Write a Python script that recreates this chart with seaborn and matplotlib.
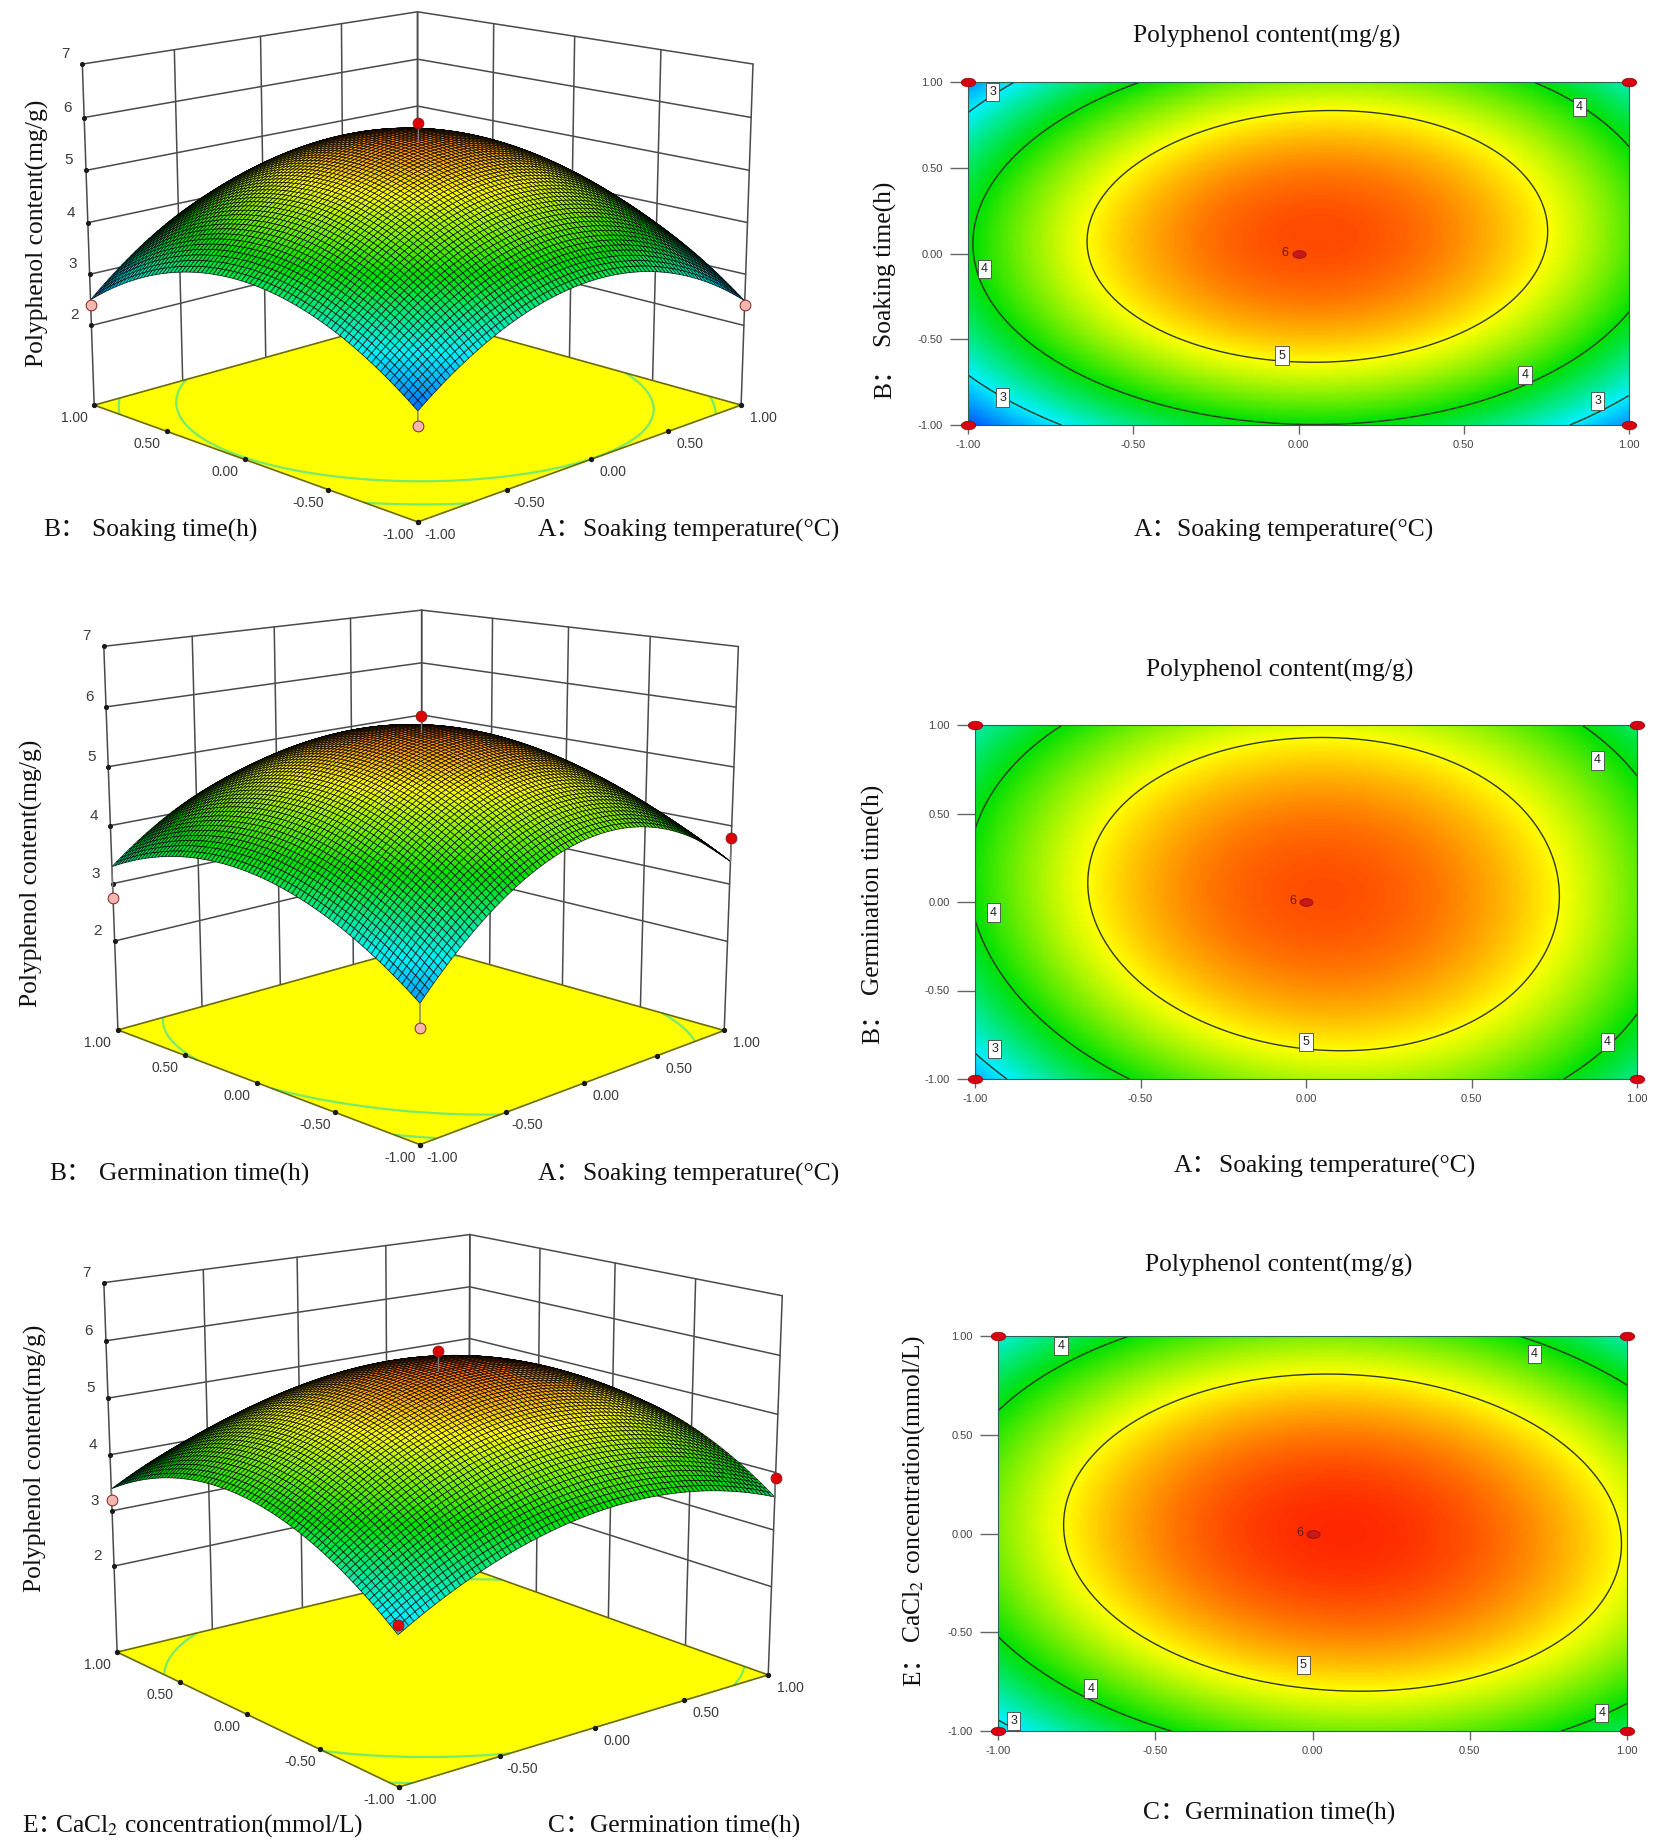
import numpy as np
import pandas as pd
import matplotlib
matplotlib.use("Agg")
import matplotlib.pyplot as plt
from matplotlib.colors import LinearSegmentedColormap, Normalize
from matplotlib.path import Path
from matplotlib.transforms import Affine2D
import seaborn as sns

sns.set_theme(style="white")
SERIF = ["Liberation Serif", "Noto Sans CJK SC", "DejaVu Sans"]
plt.rcParams["mathtext.fontset"] = "stix"

W, H = 1654, 1843

# Response grids: rows are the second factor, columns the first
LEVELS = [-1.0, -0.5, 0.0, 0.5, 1.0]
RESPONSE_1 = [[2.10, 3.55, 4.05, 3.60, 2.50],
              [3.55, 4.55, 5.25, 4.90, 3.75],
              [3.95, 5.15, 6.05, 5.45, 4.30],
              [3.70, 4.90, 5.65, 5.25, 4.10],
              [2.50, 3.95, 4.55, 4.35, 3.30]]
RESPONSE_2 = [[2.65, 4.15, 4.60, 4.55, 3.45],
              [3.70, 4.80, 5.40, 5.30, 4.00],
              [4.05, 5.10, 6.00, 5.40, 4.55],
              [4.05, 5.05, 5.70, 5.35, 4.05],
              [3.25, 4.50, 4.90, 4.40, 3.70]]
RESPONSE_3 = [[2.85, 3.90, 4.45, 4.35, 3.65],
              [4.00, 5.10, 5.50, 5.40, 4.65],
              [4.50, 5.55, 6.00, 5.75, 4.90],
              [4.20, 5.20, 5.55, 5.40, 4.60],
              [3.10, 4.15, 4.50, 4.15, 3.30]]
# The same responses as read against the walls of the 3D views
SURFACE_1 = [[2.35, 3.40, 3.85, 3.40, 2.50],
             [3.40, 4.35, 4.95, 4.60, 3.60],
             [3.75, 4.95, 5.85, 5.25, 4.05],
             [3.50, 4.70, 5.35, 5.05, 3.90],
             [2.50, 3.75, 4.30, 4.10, 3.10]]
SURFACE_2 = [[2.55, 3.90, 4.35, 4.30, 3.40],
             [3.50, 4.60, 5.20, 5.10, 3.80],
             [3.85, 4.95, 5.72, 5.25, 4.30],
             [3.85, 4.85, 5.45, 5.15, 3.85],
             [3.25, 4.30, 4.65, 4.20, 3.60]]
SURFACE_3 = [[2.85, 3.60, 4.10, 4.00, 3.60],
             [3.75, 4.70, 5.15, 5.10, 4.35],
             [4.15, 5.15, 5.55, 5.55, 4.65],
             [4.00, 4.95, 5.35, 5.30, 4.40],
             [3.40, 4.10, 4.45, 4.10, 3.55]]
# Design points: (first factor, second factor, response, colour)
POINTS_1 = [(0, 0, 5.9, "#e00000"), (-1, 1, 2.4, "#f2b8b0"), (1, -1, 2.4, "#f2b8b0"), (-1, -1, 2.1, "#f2b8b0")]
POINTS_2 = [(0, 0, 5.85, "#e00000"), (-1, 1, 2.75, "#f2b8b0"), (1, -1, 3.8, "#e00000"), (-1, -1, 2.2, "#f2b8b0")]
POINTS_3 = [(0, 0, 5.95, "#e00000"), (-1, 1, 3.2, "#f2b8b0"), (1, -1, 3.9, "#e00000"), (-1, -1, 3.0, "#e00000")]
Z_TICKS = [2, 3, 4, 5, 6, 7]
Z_LABELS = ["2", "3", "4", "5", "6", "7"]
XY_TICKS = [-1.0, -0.5, 0.0, 0.5, 1.0]
XY_LABELS = ["-1.00", "-0.50", "0.00", "0.50", "1.00"]
CONTOUR_LEVELS = [3, 4, 5]
FLOOR_LEVELS = [3, 4]
LABELS_1 = [(-.925, .94, "3"), (.85, .855, "4"), (-.95, -.09, "4"), (-.05, -.595, "5"),
            (.685, -.71, "4"), (-.895, -.84, "3"), (.905, -.86, "3")]
LABELS_2 = [(.88, .80, "4"), (-.945, -.06, "4"), (-.94, -.83, "3"), (0, -.79, "5"), (.91, -.79, "4")]
LABELS_3 = [(-.80, .95, "4"), (.705, .91, "4"), (-.03, -.665, "5"), (-.705, -.785, "4"),
            (-.95, -.95, "3"), (.92, -.91, "4")]
TITLE = "Polyphenol content(mg/g)"
Z_FLOOR = 0.42

cmap = LinearSegmentedColormap.from_list(
    "rsm", ["#0038ff", "#00f0ff", "#00e000", "#ffff00", "#ff2000"])
norm = Normalize(vmin=2, vmax=6)
FLAT = Path.unit_circle().transformed(Affine2D().scale(1.7, 1))

fig = plt.figure(figsize=(W / 100, H / 100), dpi=100, facecolor="white")


def fine_surface(rows, n):
    gx, gy = np.meshgrid(LEVELS, LEVELS)
    basis = np.polynomial.polynomial.polyvander2d(gx.ravel(), gy.ravel(), [2, 2])
    coef = np.linalg.lstsq(basis, np.asarray(rows, float).ravel(), rcond=None)[0]
    axis = np.linspace(-1, 1, n)
    X, Y = np.meshgrid(axis, axis)
    Z = np.polynomial.polynomial.polyval2d(X, Y, coef.reshape(3, 3))
    return X, Y, Z


def px_text(x, y, s, **kw):
    kw.setdefault("family", SERIF)
    kw.setdefault("fontsize", 18.4)
    kw.setdefault("color", "#111111")
    kw.setdefault("va", "center")
    return fig.text(x / W, 1 - y / H, s, **kw)


def fit_camera(ax, targets):
    pts = np.array([[-1, 1, Z_FLOOR, 1], [1, -1, Z_FLOOR, 1], [-1, -1, Z_FLOOR, 1],
                    [-1, 1, 7, 1], [1, -1, 7, 1], [1, 1, 7, 1]], float)
    tgt = np.array(targets, float)
    tgt[:, 1] = H - tgt[:, 1]

    def solve(p):
        ax.view_init(elev=p[0], azim=p[1])
        ax.set_proj_type("persp", focal_length=p[2])
        ax.set_box_aspect((1, 1, p[3]))
        q = (ax.get_proj() @ pts.T).T
        uv = q[:, :2] / q[:, [3]]
        fr = ax.transLimits.transform(uv)
        d = fr - fr.mean(axis=0)
        t = tgt - tgt.mean(axis=0)
        s = (d * t).sum() / (d * d).sum()
        off = tgt.mean(axis=0) - s * fr.mean(axis=0)
        return ((s * fr + off - tgt) ** 2).sum(), s, off

    p = np.array([20.0, -135.0, 3.0, 1.6])
    steps = np.array([4.0, 4.0, 1.0, 0.2])
    best = solve(p)[0]
    for _ in range(40):
        improved = False
        for i in range(4):
            for sign in (1, -1):
                c = p.copy()
                c[i] += sign * steps[i]
                if c[2] < 0.3 or c[3] < 0.4:
                    continue
                e = solve(c)[0]
                if e < best:
                    best, p, improved = e, c, True
        if not improved:
            steps = steps / 2
    _, s, off = solve(p)
    ax.set_position([off[0] / W, off[1] / H, s / W, s / H])


def panel_3d(rows, floor_rows, points, targets):
    ax = fig.add_axes([0, 0, 0.5, 0.5], projection="3d", computed_zorder=False)
    ax.set_axis_off()
    ax.patch.set_visible(False)
    ax.set_xlim(-1, 1)
    ax.set_ylim(-1, 1)
    ax.set_zlim(Z_FLOOR, 7)
    fit_camera(ax, targets)
    # walls
    wall = dict(color="#4a4a4a", lw=1.1, zorder=0)
    for z in Z_TICKS:
        ax.plot([-1, 1, 1], [1, 1, -1], [z, z, z], **wall)
    for t in XY_TICKS:
        ax.plot([t, t], [1, 1], [Z_FLOOR, 7], **wall)
        ax.plot([1, 1], [t, t], [Z_FLOOR, 7], **wall)
    # floor
    X, Y, Z = fine_surface(rows, 81)
    Xf, Yf, Zf = fine_surface(floor_rows, 81)
    fx = np.array([[-1, 1], [-1, 1]], float)
    fy = np.array([[-1, -1], [1, 1]], float)
    ax.plot_surface(fx, fy, np.full_like(fx, Z_FLOOR), color="#ffff00", shade=False,
                    linewidth=0, zorder=1)
    ax.contour(Xf, Yf, Zf, levels=FLOOR_LEVELS, zdir="z", offset=Z_FLOOR,
               colors="#78ea6a", linewidths=1.6, zorder=2)
    edge = dict(color="#6b6b00", lw=1.2, zorder=2)
    ax.plot([-1, 1, 1, -1, -1], [-1, -1, 1, 1, -1], [Z_FLOOR] * 5, **edge)
    for t in XY_TICKS:
        ax.scatter([t], [-1], [Z_FLOOR], c="k", s=8, depthshade=False, zorder=2.5)
        ax.scatter([-1], [t], [Z_FLOOR], c="k", s=8, depthshade=False, zorder=2.5)
    for z in Z_TICKS:
        ax.scatter([-1], [1], [z], c="k", s=7, depthshade=False, zorder=2.5)
    fc = cmap(norm(Z))
    ax.plot_surface(X, Y, Z, facecolors=fc, rstride=1, cstride=1, shade=False,
                    edgecolor=(0, 0, 0, 0.9), linewidth=0.5, zorder=3)
    # stems join a design point to the surface
    for a, b, z, col in points:
        i, j = int(round((b + 1) * 40)), int(round((a + 1) * 40))
        ax.plot([a, a], [b, b], [z, Z[i, j]], color="#7a7a7a", lw=1.0, zorder=4)
    for a, b, z, col in points:
        ax.scatter([a], [b], [z], c=col, s=60, edgecolors="#8a2020", linewidths=0.7,
                   depthshade=False, zorder=5)
    M = ax.get_proj()

    def proj(x, y, z):
        q = M @ np.array([x, y, z, 1.0])
        return q[0] / q[3], q[1] / q[3]

    def lab(x, y, z, s, dx, dy, **kw):
        ax.annotate(s, proj(x, y, z), xytext=(dx, dy), textcoords="offset pixels",
                    family="Liberation Sans", color="#3a3a3a", ha="center", va="center",
                    annotation_clip=False, **kw)

    for t, s in zip(XY_TICKS, XY_LABELS):
        lab(t, -1, Z_FLOOR, s, 22, -13, fontsize=10)
        lab(-1, t, Z_FLOOR, s, -20, -13, fontsize=10)
    for z, s in zip(Z_TICKS, Z_LABELS):
        lab(-1, 1, z, s, -17, 10, fontsize=11)
    return ax


def panel_contour(rows, box, labels):
    l, t, r, b = box
    n = 300
    X, Y, Z = fine_surface(rows, n)
    ax = fig.add_axes([l / W, 1 - b / H, (r - l) / W, (b - t) / H])
    df = pd.DataFrame(Z)
    sns.heatmap(df, ax=ax, cmap=cmap, norm=norm, cbar=False, xticklabels=False, yticklabels=False)
    ax.invert_yaxis()
    to_i = lambda v: (np.asarray(v) + 1) / 2 * n
    ax.contour(to_i(X), to_i(Y), Z, levels=CONTOUR_LEVELS, colors="#2a3a20", linewidths=1.0)
    ax.set_xticks(to_i(XY_TICKS))
    ax.set_xticklabels(XY_LABELS, family="Liberation Sans", fontsize=8, color="#444444")
    ax.set_yticks(to_i(XY_TICKS))
    ax.set_yticklabels(XY_LABELS, family="Liberation Sans", fontsize=8, color="#444444", rotation=0)
    ax.tick_params(axis="x", length=6.5, width=1, color="#666666", pad=4, bottom=True)
    ax.tick_params(axis="y", length=13, width=1, color="#666666", pad=5, left=True)
    for sp in ax.spines.values():
        sp.set_visible(True)
        sp.set_color("#2f5f50")
        sp.set_linewidth(0.8)
    ax.scatter(to_i([-1, 1, -1, 1]), to_i([-1, -1, 1, 1]), s=110, marker=FLAT, c="#d80010",
               edgecolors="#900000", linewidths=0.5, clip_on=False, zorder=6)
    ax.scatter(to_i([0]), to_i([0]), s=90, marker=FLAT, c="#c81818", edgecolors="#801010",
               linewidths=0.5, zorder=6)
    ax.text(to_i(-0.04), to_i(0.005), "6", fontsize=9, family="Liberation Sans", color="#602010",
            ha="center", va="center")
    for a, bb, s in labels:
        ax.text(to_i(a), to_i(bb), s, fontsize=9, family="Liberation Sans", color="#222222",
                ha="center", va="center",
                bbox=dict(boxstyle="square,pad=0.25", fc="white", ec="#444444", lw=0.6))
    return ax


def prefixed(x, y, prefix, body, gap=45, rotate=False):
    if rotate:
        px_text(x, y, prefix, rotation=90, ha="center", va="bottom")
        px_text(x, y - gap, body, rotation=90, ha="center", va="bottom")
    else:
        px_text(x, y, prefix, ha="left")
        px_text(x + gap, y, body, ha="left")


# Row 1
panel_3d(SURFACE_1, RESPONSE_1, POINTS_1, [(98, 406), (737, 406), (418, 520), (78, 65), (757, 64), (418, 11)])
panel_contour(RESPONSE_1, (968, 82, 1629, 425), LABELS_1)
px_text(37, 233, TITLE, rotation=90, ha="center")
prefixed(43, 530, "B：", "Soaking time(h)", gap=49)
prefixed(538, 530, "A：", "Soaking temperature(°C)", gap=45)
px_text(1267, 36, TITLE, ha="center")
prefixed(1134, 530, "A：", "Soaking temperature(°C)", gap=43)
prefixed(885, 399, "B：", "Soaking time(h)", gap=52, rotate=True)

# Row 2
panel_3d(SURFACE_2, RESPONSE_2, POINTS_2, [(121, 1029), (725, 1032), (420, 1144), (102, 642), (739, 651), (419, 610)])
panel_contour(RESPONSE_2, (975, 725, 1637, 1079), LABELS_2)
px_text(31, 873, TITLE, rotation=90, ha="center")
prefixed(49, 1174, "B：", "Germination time(h)", gap=50)
prefixed(538, 1174, "A：", "Soaking temperature(°C)", gap=45)
px_text(1280, 670, TITLE, ha="center")
prefixed(1174, 1166, "A：", "Soaking temperature(°C)", gap=45)
prefixed(873, 1044, "B：", "Germination time(h)", gap=49, rotate=True)

# Row 3
panel_3d(SURFACE_3, RESPONSE_3, POINTS_3, [(121, 1652), (765, 1677), (399, 1785), (100, 1282), (786, 1297), (469, 1234)])
panel_contour(RESPONSE_3, (998, 1336, 1627, 1731), LABELS_3)
px_text(35, 1458, TITLE, rotation=90, ha="center")
prefixed(22, 1826, "E：", r"CaCl$_2$ concentration(mmol/L)", gap=33)
prefixed(548, 1826, "C：", "Germination time(h)", gap=42)
px_text(1279, 1265, TITLE, ha="center")
prefixed(1143, 1813, "C：", "Germination time(h)", gap=42)
prefixed(914, 1686, "E：", r"CaCl$_2$ concentration(mmol/L)", gap=43, rotate=True)

fig.savefig("out.png", dpi=100)
